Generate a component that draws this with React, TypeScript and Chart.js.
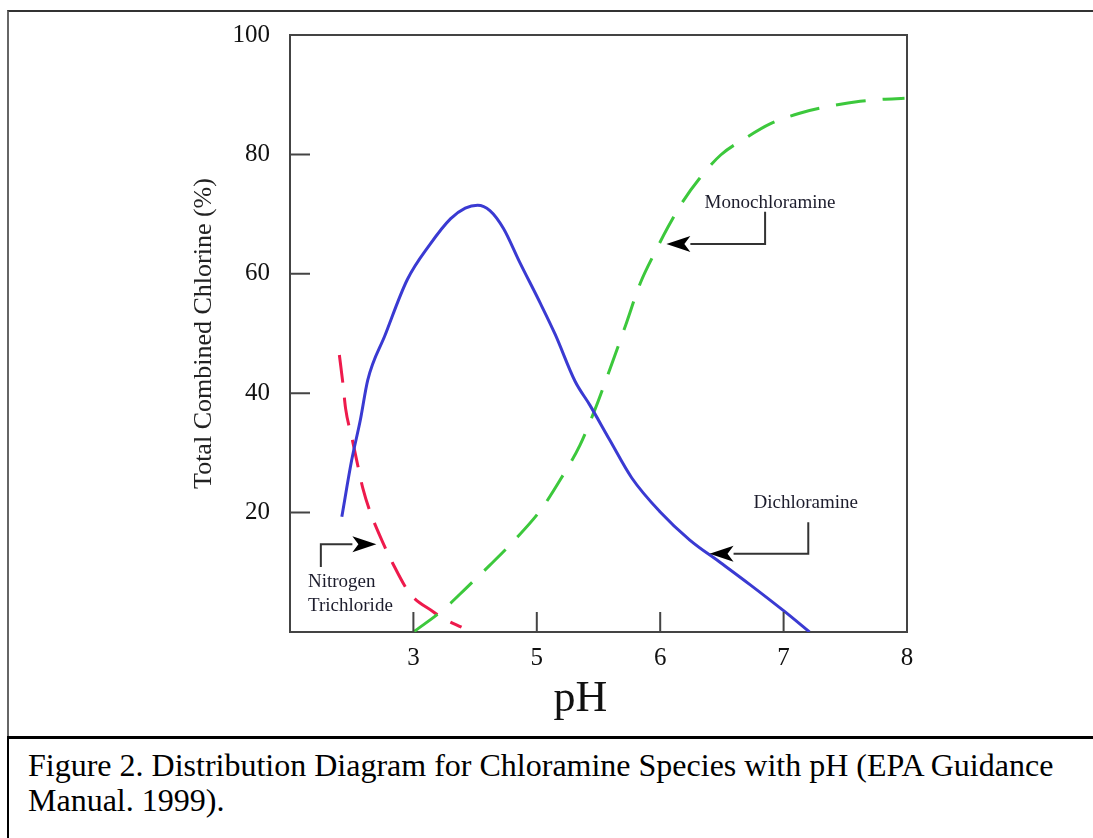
import React, { useEffect, useRef } from "react";
import { Chart, registerables } from "chart.js";

Chart.register(...registerables);

// ---- Data (x in axis position units: 2..7 ; tick labels mapped below) ----
const xTickPositions = [3, 4, 5, 6, 7];
const xTickLabels = ["3", "5", "6", "7", "8"];
const yTickValues = [20, 40, 60, 80, 100];

const dichloramineX = [2.42, 2.5, 2.57, 2.63, 2.77, 2.95, 3.13, 3.3, 3.42, 3.52, 3.62, 3.73, 3.86, 4.03, 4.15, 4.31, 4.43, 4.59, 4.77, 5.0, 5.24, 5.49, 5.73, 6.01, 6.21];
const dichloramineY = [19.3, 28.8, 35.5, 42.2, 49.7, 59.0, 64.8, 69.2, 71.0, 71.5, 70.6, 67.6, 62.0, 55.0, 49.8, 42.0, 38.0, 32.2, 25.8, 20.1, 15.4, 11.6, 7.9, 3.4, 0];

const monochloramineX = [3.0, 3.24, 3.43, 3.62, 3.82, 4.03, 4.19, 4.35, 4.47, 4.59, 4.72, 4.84, 4.96, 5.06, 5.18, 5.32, 5.49, 5.69, 5.89, 6.13, 6.38, 6.62, 6.78, 6.98];
const monochloramineY = [0, 3.7, 7.4, 11.2, 15.4, 20.4, 25.5, 31.3, 37.2, 43.9, 51.4, 58.5, 63.7, 67.7, 72.0, 76.0, 79.9, 82.7, 85.1, 86.9, 88.1, 88.9, 89.2, 89.4];

const trichlorideX = [2.4, 2.43, 2.45, 2.5, 2.54, 2.59, 2.65, 2.75, 2.83, 2.97, 3.16, 3.24, 3.39];
const trichlorideY = [46.4, 41.4, 37.5, 32.7, 28.8, 24.1, 20.1, 15.1, 11.6, 6.5, 3.4, 2.3, 0.8];

const xAxisTitle = "pH";
const yAxisTitle = "Total Combined Chlorine (%)";
const captionLine1 = "Figure 2. Distribution Diagram for Chloramine Species with pH (EPA Guidance";
const captionLine2 = "Manual. 1999).";

// annotation anchors (data units)
const annotations = [
  { lines: ["Monochloramine"], textX: 5.89, textY: 71.9, align: "center", path: [[5.85, 70.4], [5.85, 65.0]], tip: [5.05, 65.0] },
  { lines: ["Dichloramine"], textX: 6.18, textY: 21.6, align: "center", path: [[6.2, 18.4], [6.2, 13.1]], tip: [5.4, 13.1] },
  { lines: ["Nitrogen", "Trichloride"], textX: 2.146, textY: 8.4, align: "left", path: [[2.25, 10.9], [2.25, 14.7]], tip: [2.7, 14.7] },
];

const toPts = (xs: number[], ys: number[]) => xs.map((x, i) => ({ x, y: ys[i] }));

const FONT = "'Liberation Serif', 'Times New Roman', serif";

const framePlugin = {
  id: "framePlugin",
  afterDatasetsDraw(chart: any) {
    const { ctx, chartArea, scales } = chart;
    const xs = scales.x;
    const ys = scales.y;
    ctx.save();
    ctx.strokeStyle = "#444";
    ctx.lineWidth = 2;
    // top and right border
    ctx.beginPath();
    ctx.moveTo(chartArea.left, chartArea.top);
    ctx.lineTo(chartArea.right, chartArea.top);
    ctx.lineTo(chartArea.right, chartArea.bottom);
    ctx.stroke();
    // inward ticks
    ctx.beginPath();
    xTickPositions.forEach((v) => {
      const px = xs.getPixelForValue(v);
      ctx.moveTo(px, chartArea.bottom);
      ctx.lineTo(px, chartArea.bottom - 20);
    });
    yTickValues.forEach((v) => {
      const py = ys.getPixelForValue(v);
      ctx.moveTo(chartArea.left, py);
      ctx.lineTo(chartArea.left + 20, py);
    });
    ctx.stroke();

    // x axis title (slightly left of centre, as in the reference)
    ctx.fillStyle = "#111";
    ctx.font = `44px ${FONT}`;
    ctx.textAlign = "center";
    ctx.textBaseline = "middle";
    ctx.fillText(xAxisTitle, (chartArea.left + chartArea.right) / 2 - 18, chartArea.bottom + 67);

    // annotations
    ctx.font = `19px ${FONT}`;
    ctx.fillStyle = "#1c1c2c";
    ctx.textBaseline = "middle";
    annotations.forEach((a) => {
      ctx.textAlign = a.align as CanvasTextAlign;
      const tx = xs.getPixelForValue(a.textX);
      const ty = ys.getPixelForValue(a.textY);
      a.lines.forEach((ln, i) => ctx.fillText(ln, tx, ty + i * 24));
      ctx.strokeStyle = "#333";
      ctx.lineWidth = 2;
      const p0 = [xs.getPixelForValue(a.path[0][0]), ys.getPixelForValue(a.path[0][1])];
      const p1 = [xs.getPixelForValue(a.path[1][0]), ys.getPixelForValue(a.path[1][1])];
      const tip = [xs.getPixelForValue(a.tip[0]), ys.getPixelForValue(a.tip[1])];
      const dir = Math.sign(tip[0] - p1[0]);
      const headLen = 24;
      ctx.beginPath();
      ctx.moveTo(p0[0], p0[1]);
      ctx.lineTo(p1[0], p1[1]);
      ctx.lineTo(tip[0] - dir * headLen, tip[1]);
      ctx.stroke();
      ctx.fillStyle = "#000";
      ctx.beginPath();
      ctx.moveTo(tip[0], tip[1]);
      ctx.lineTo(tip[0] - dir * headLen, tip[1] - 8);
      ctx.lineTo(tip[0] - dir * (headLen - 6), tip[1]);
      ctx.lineTo(tip[0] - dir * headLen, tip[1] + 8);
      ctx.closePath();
      ctx.fill();
      ctx.fillStyle = "#1c1c2c";
    });
    ctx.restore();
  },
};

export default function App() {
  const canvasRef = useRef<HTMLCanvasElement | null>(null);

  useEffect(() => {
    if (!canvasRef.current) return;
    Chart.defaults.font.family = FONT;
    const chart = new Chart(canvasRef.current, {
      type: "line",
      data: {
        datasets: [
          {
            label: "Dichloramine",
            data: toPts(dichloramineX, dichloramineY),
            borderColor: "#3a3ad2",
            borderWidth: 3,
            pointRadius: 0,
            cubicInterpolationMode: "monotone",
          },
          {
            label: "Monochloramine",
            data: toPts(monochloramineX, monochloramineY),
            borderColor: "#3cc83c",
            borderWidth: 3,
            borderDash: [30, 17],
            pointRadius: 0,
            cubicInterpolationMode: "monotone",
          },
          {
            label: "Nitrogen Trichloride",
            data: toPts(trichlorideX, trichlorideY),
            borderColor: "#ee1a4c",
            borderWidth: 3,
            borderDash: [28, 15],
            pointRadius: 0,
            cubicInterpolationMode: "monotone",
          },
        ],
      },
      options: {
        responsive: false,
        animation: false,
        devicePixelRatio: 1,
        layout: { padding: { top: 35, right: 186, bottom: 0, left: 0 } },
        plugins: { legend: { display: false }, tooltip: { enabled: false } },
        scales: {
          x: {
            type: "linear",
            min: 2,
            max: 7,
            grid: { display: false, drawTicks: false },
            border: { display: true, color: "#444", width: 2 },
            ticks: {
              stepSize: 1,
              padding: 11,
              color: "#111",
              font: { size: 25, family: FONT },
              callback: (v: any) => {
                const i = xTickPositions.indexOf(Number(v));
                return i >= 0 ? xTickLabels[i] : "";
              },
            },
            title: { display: false },
            afterFit: (scale: any) => {
              scale.height = 103;
            },
          },
          y: {
            type: "linear",
            min: 0,
            max: 100,
            grid: { display: false, drawTicks: false },
            border: { display: true, color: "#444", width: 2 },
            ticks: {
              stepSize: 20,
              padding: 20,
              color: "#111",
              font: { size: 25, family: FONT },
              callback: (v: any) => (yTickValues.includes(Number(v)) ? String(v) : ""),
            },
            title: {
              display: true,
              text: yAxisTitle,
              color: "#222",
              font: { size: 26, family: FONT },
              padding: { top: 189, bottom: 0 },
            },
            afterFit: (scale: any) => {
              scale.width = 290;
            },
          },
        },
      },
      plugins: [framePlugin],
    });
    return () => chart.destroy();
  }, []);

  return (
    <div style={{ position: "absolute", left: 0, top: 0, width: 1093, height: 838, background: "#fff", overflow: "hidden" }}>
      {/* outer frame */}
      <div style={{ position: "absolute", left: 7, top: 10, width: 1100, height: 727, borderTop: "2px solid #333", borderLeft: "2px solid #666", boxSizing: "border-box" }} />
      <div style={{ position: "absolute", left: 7, top: 736, width: 1100, height: 3, background: "#000" }} />
      <div style={{ position: "absolute", left: 7, top: 736, width: 2, height: 110, background: "#000" }} />
      <canvas ref={canvasRef} width={1093} height={735} style={{ position: "absolute", left: 0, top: 0, width: 1093, height: 735 }} />
      <div style={{ position: "absolute", left: 28, top: 748, fontFamily: FONT, fontSize: 32, lineHeight: "35px", color: "#000", whiteSpace: "nowrap" }}>
        {captionLine1}
        <br />
        {captionLine2}
      </div>
    </div>
  );
}
